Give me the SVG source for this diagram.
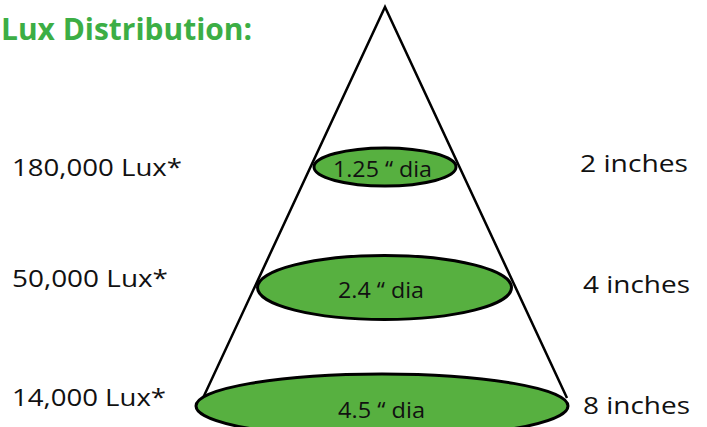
<svg xmlns="http://www.w3.org/2000/svg" width="707" height="427" viewBox="0 0 707 427">
<style>
.lbl{font-family:"Open Sans","Noto Sans","Liberation Sans",sans-serif;font-size:23px;fill:#111}
.in{font-family:"Open Sans","Noto Sans","Liberation Sans",sans-serif;font-size:22px;fill:#111}
.ell{fill:#57b040;stroke:#000;stroke-width:3}
.title{font-family:"Open Sans","Noto Sans","Liberation Sans",sans-serif;font-size:30px;font-weight:bold;fill:#3cae45}
</style>
<rect width="707" height="427" fill="#fff"/>
<text class="title" x="1" y="40" textLength="251" lengthAdjust="spacingAndGlyphs">Lux Distribution:</text>
<g id="connectors">
<polyline points="203,398 385,7 567,398" fill="none" stroke="#000" stroke-width="2.5" stroke-linejoin="miter"/>
</g>
<g id="ellipse1">
<ellipse class="ell" cx="385" cy="167" rx="71" ry="19"/>
<text class="in" x="333" y="177" textLength="99" lengthAdjust="spacingAndGlyphs">1.25 “ dia</text>
</g>
<g id="ellipse2">
<ellipse class="ell" cx="384.5" cy="287.5" rx="127" ry="32"/>
<text class="in" x="338" y="298" textLength="86" lengthAdjust="spacingAndGlyphs">2.4 “ dia</text>
</g>
<g id="ellipse3">
<ellipse class="ell" cx="382" cy="406" rx="186" ry="32"/>
<text class="in" x="338" y="418" textLength="87" lengthAdjust="spacingAndGlyphs">4.5 “ dia</text>
</g>
<g id="left-labels">
<text class="lbl" x="12" y="176" textLength="170" lengthAdjust="spacingAndGlyphs">180,000 Lux*</text>
<text class="lbl" x="12" y="287" textLength="156" lengthAdjust="spacingAndGlyphs">50,000 Lux*</text>
<text class="lbl" x="12" y="406" textLength="154" lengthAdjust="spacingAndGlyphs">14,000 Lux*</text>
</g>
<g id="right-labels">
<text class="lbl" x="580" y="172" textLength="108" lengthAdjust="spacingAndGlyphs">2 inches</text>
<text class="lbl" x="583" y="293" textLength="107" lengthAdjust="spacingAndGlyphs">4 inches</text>
<text class="lbl" x="583" y="414" textLength="107" lengthAdjust="spacingAndGlyphs">8 inches</text>
</g>
</svg>
